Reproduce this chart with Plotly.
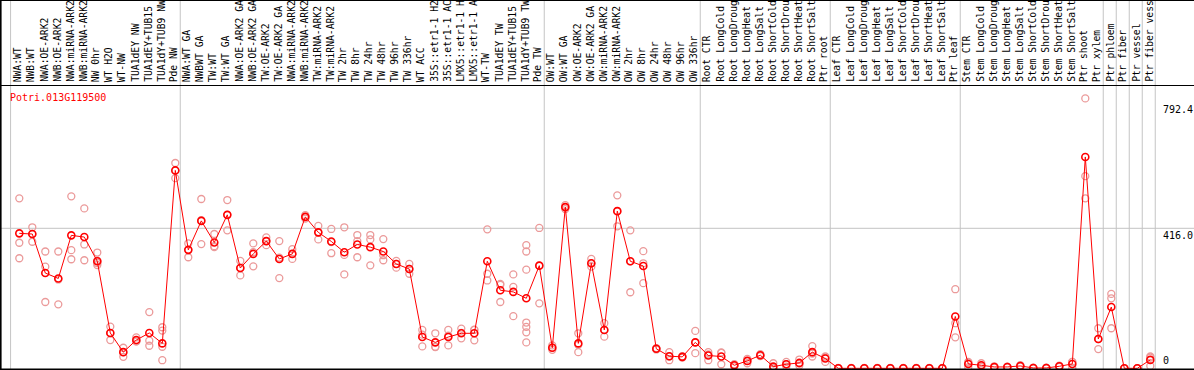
import plotly.graph_objects as go

# ---------------- data ----------------
gene = "Potri.013G119500"

labels = [
    "NWA:WT", "NWB:WT", "NWA:OE-ARK2", "NWB:OE-ARK2", "NWA:miRNA-ARK2", "NWB:miRNA-ARK2",
    "NW 0hr", "WT H2O", "WT-NW", "TUA1dEY NW", "TUA1dEY+TUB15", "TUA1dY+TUB9 NW", "Pde NW",
    "NWA:WT GA", "NWBWT GA", "TW:WT", "TW:WT GA", "NWA:OE-ARK2 GA", "NWB:OE-ARK2 GA",
    "TW:OE-ARK2", "TW:OE-ARK2 GA", "NWA:miRNA-ARK2", "NWB:miRNA-ARK2", "TW:miRNA-ARK2",
    "TW:miRNA-ARK2", "TW 2hr", "TW 8hr", "TW 24hr", "TW 48hr", "TW 96hr", "TW 336hr",
    "WT ACC", "35S::etr1-1 H2", "35S::etr1-1 AC", "LMX5::etr1-1 H", "LMX5::etr1-1 A",
    "WT-TW", "TUA1dEY TW", "TUA1dEY+TUB15", "TUA1dY+TUB9 TW", "Pde TW",
    "OW:WT", "OW:WT GA", "OW:OE-ARK2", "OW:OE-ARK2 GA", "OW:miRNA-ARK2", "OW:miRNA-ARK2",
    "OW 2hr", "OW 8hr", "OW 24hr", "OW 48hr", "OW 96hr", "OW 336hr",
    "Root CTR", "Root LongCold", "Root LongDroug", "Root LongHeat", "Root LongSalt",
    "Root ShortCold", "Root ShortDrou", "Root ShortHeat", "Root ShortSalt", "Ptr root",
    "Leaf CTR", "Leaf LongCold", "Leaf LongDroug", "Leaf LongHeat", "Leaf LongSalt",
    "Leaf ShortCold", "Leaf ShortDrou", "Leaf ShortHeat", "Leaf ShortSalt", "Ptr leaf",
    "Stem CTR", "Stem LongCold", "Stem LongDroug", "Stem LongHeat", "Stem LongSalt",
    "Stem ShortCold", "Stem ShortDrou", "Stem ShortHeat", "Stem ShortSalt", "Ptr shoot",
    "Ptr xylem", "Ptr phloem", "Ptr fiber", "Ptr vessel", "Ptr fiber vess",
]

group_sizes = [13, 28, 12, 10, 10, 11, 1, 1, 1, 1]

means = [
    401, 399, 283, 267, 395, 390, 318, 105, 48, 84, 105, 74, 588,
    352, 438, 374, 456, 298, 340, 378, 325, 340, 450, 404, 377, 345, 368, 360, 347,
    310, 295, 93, 77, 93, 104, 104, 318, 232, 227, 208, 305,
    61, 479, 74, 312, 114, 467, 318, 304, 58, 36, 34, 77,
    38, 35, 9, 22, 39, 5, 12, 16, 48, 29,
    0, 0, 0, 0, 0, 0, 0, 0, 0, 154,
    13, 9, 4, 4, 7, 1, 1, 6, 13, 628,
    87, 182, 0, 0, 25,
]

replicates = [
    [505, 373, 327], [419, 399, 376], [347, 302, 197], [347, 264, 190], [511, 351, 324],
    [475, 368, 321], [344, 320, 313, 307], [124, 105, 84], [61, 48, 34], [92, 80, 80],
    [167, 82, 67], [122, 112, 64, 24], [610, 588, 565],
    [371, 352, 330], [503, 440, 369], [399, 363, 360], [500, 456, 410], [319, 298, 276],
    [371, 345, 303], [389, 378, 366], [378, 329, 268], [354, 340, 325], [455, 450, 445],
    [423, 404, 383], [414, 375, 342], [419, 337, 279], [396, 378, 330], [396, 383, 306],
    [384, 336, 321], [319, 310, 299], [310, 295, 281], [114, 100, 65], [104, 63, 64],
    [114, 97, 68], [118, 105, 89], [114, 115, 83], [413, 281, 261], [251, 248, 197],
    [279, 242, 155], [366, 347, 293, 136, 123, 107, 77], [417, 305, 193],
    [68, 61, 55], [485, 479, 473], [104, 70, 48], [325, 312, 302], [134, 114, 94],
    [514, 467, 422], [410, 318, 226], [348, 312, 253], [60, 58, 56], [48, 35, 24],
    [36, 34, 32], [111, 77, 45],
    [48, 41, 24], [47, 46, 12], [12, 9, 6], [28, 22, 15], [42, 38, 36], [15, 0, 0],
    [19, 12, 5], [26, 14, 8], [66, 44, 35], [35, 32, 19],
    [1, 0, 0], [1, 0, 0], [1, 0, 0], [1, 0, 0], [1, 0, 0], [1, 0, 0], [1, 0, 0],
    [1, 0, 0], [1, 0, 0], [235, 134, 92],
    [19, 17, 3], [15, 8, 4], [6, 4, 2], [5, 4, 3], [9, 7, 5], [2, 1, 0], [2, 1, 0],
    [8, 6, 4], [19, 19, 1], [802, 571, 505],
    [119, 87, 57], [221, 208, 119], [0, 0, 0], [0, 0, 0], [35, 32, 7],
]

ytick_vals = [792.4, 416.0, 0]
ytick_text = ["792.4", "416.0", "0"]

# ---------------- layout geometry ----------------
W, H = 1194, 370
X0_PX, DX_PX = 19.3, 13.0          # pixel of first category, spacing
Y0_PX, PX_PER_UNIT = 368.3, 140.0 / 416.0
LABEL_BOTTOM_PX = 85
xr = [-X0_PX / DX_PX, (W - X0_PX) / DX_PX]
yr = [-(H - Y0_PX) / PX_PER_UNIT, Y0_PX / PX_PER_UNIT]

FONT = "DejaVu Sans Mono"
RED = "#ff0000"
PINK = "#eb9a9a"
GRID = "#c4c4c4"

xs = list(range(len(labels)))
rx, ry = [], []
for i, reps in enumerate(replicates):
    for v in reps:
        rx.append(i)
        ry.append(v)

fig = go.Figure()
fig.add_trace(go.Scatter(
    x=rx, y=ry, mode="markers", hoverinfo="skip",
    marker=dict(symbol="circle-open", size=7, color=PINK, line=dict(width=1.3, color=PINK)),
))
fig.add_trace(go.Scatter(
    x=xs, y=means, mode="lines+markers",
    line=dict(color=RED, width=1),
    marker=dict(symbol="circle-open", size=7, color=RED, line=dict(width=1.6, color=RED)),
))

shapes = []
# vertical group separators
b = -1
bounds = [b]
for g in group_sizes:
    b += g
    bounds.append(b)
for k, bb in enumerate(bounds):
    xv = bb + 0.38 if k > 0 else bb + 0.33
    shapes.append(dict(type="line", xref="x", yref="paper", x0=xv, x1=xv, y0=0, y1=1,
                       line=dict(color=GRID, width=1), layer="below"))
# horizontal gridline
shapes.append(dict(type="line", xref="paper", yref="y", x0=0, x1=1, y0=416.0, y1=416.0,
                   line=dict(color=GRID, width=1), layer="below"))
# black frame lines
def py(p):
    return 1 - p / H
shapes += [
    dict(type="line", xref="paper", yref="paper", x0=0, x1=1, y0=py(0.5), y1=py(0.5),
         line=dict(color="black", width=1)),
    dict(type="line", xref="paper", yref="paper", x0=0, x1=1,
         y0=py(LABEL_BOTTOM_PX + 0.5), y1=py(LABEL_BOTTOM_PX + 0.5),
         line=dict(color="black", width=1)),
    dict(type="line", xref="paper", yref="paper", x0=0, x1=1, y0=py(369.2), y1=py(369.2),
         line=dict(color="black", width=1.6)),
    dict(type="line", xref="paper", yref="paper", x0=0.8 / W, x1=0.8 / W, y0=0, y1=1,
         line=dict(color="black", width=1.6)),
]

annotations = []
for i, lab in enumerate(labels):
    annotations.append(dict(
        x=i, xref="x", y=py(LABEL_BOTTOM_PX - 2), yref="paper",
        text=lab, showarrow=False, textangle=-90, borderpad=0,
        xanchor="center", yanchor="bottom", xshift=-1.5,
        font=dict(family=FONT, size=9.7, color="black"),
    ))
annotations.append(dict(
    x=8 / W, xref="paper", y=py(97), yref="paper", text=gene, showarrow=False,
    xanchor="left", yanchor="middle", font=dict(family=FONT, size=10, color=RED),
))
for v, t in zip(ytick_vals, ytick_text):
    annotations.append(dict(
        x=1161 / W, xref="paper", y=v, yref="y", text=t, showarrow=False,
        xanchor="left", yanchor="bottom" if v == 0 else "top",
        font=dict(family=FONT, size=10, color="black"),
    ))

fig.update_layout(
    width=W, height=H, margin=dict(l=0, r=0, t=0, b=0),
    paper_bgcolor="white", plot_bgcolor="white", showlegend=False,
    xaxis=dict(range=xr, visible=False, domain=[0, 1], fixedrange=True),
    yaxis=dict(range=yr, visible=False, domain=[0, 1], fixedrange=True),
    shapes=shapes, annotations=annotations,
)

fig.write_html(
    "out.html",
    config={"displayModeBar": False},
    post_script="document.body.style.margin='0';document.body.style.overflow='hidden';",
)
